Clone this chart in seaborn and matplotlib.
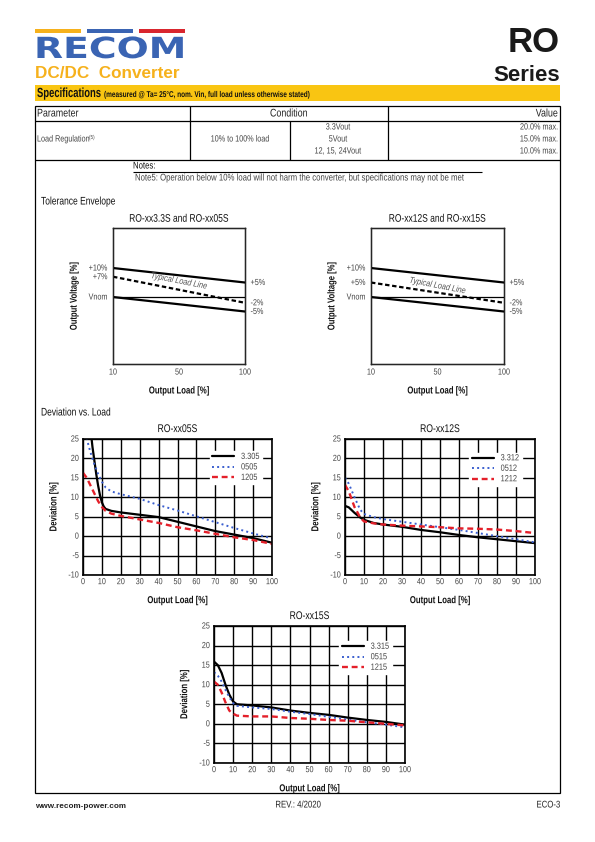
import matplotlib
matplotlib.use('Agg')
import matplotlib.pyplot as plt
import seaborn as sns
from matplotlib import patheffects
from matplotlib.patches import Rectangle
from matplotlib.transforms import Affine2D

# Page size in pixels (595x842 at 100 dpi)
W, H = 595, 842

sns.set_style('white')
plt.rcParams['font.family'] = ['Liberation Sans', 'DejaVu Sans']
plt.rcParams['axes.unicode_minus'] = False

ORANGE = '#F6B11C'
YELLOW = '#F9C512'
LOGO_BLUE = '#3A64B3'
LOGO_RED = '#D9262E'
GRAY = '#444444'
SER_BLUE = '#3B5FCF'
SER_RED = '#E4202A'

# ---- Tolerance envelope data (% deviation at 10% and 100% load) ----
env_load_labels = ['10', '50', '100']
env_pos = [0, 2]
env_a_upper = [10, 5]
env_a_typical = [7, -2]
env_a_lower = [0, -5]
env_a_left = ['+10%', '+7%', 'Vnom']
env_a_left_vals = [10, 7, 0]
env_b_upper = [10, 5]
env_b_typical = [5, -2]
env_b_lower = [0, -5]
env_b_left = ['+10%', '+5%', 'Vnom']
env_b_left_vals = [10, 5, 0]
env_right = ['+5%', '-2%', '-5%']
env_right_vals = [5, -2, -5]

# ---- Deviation vs load data ----
x05_black = [4, 5, 6, 7, 8, 9, 10, 11, 12, 15, 20, 30, 40, 50, 60, 70, 80, 90, 100]
y05_black = [27.5, 23, 19.5, 16, 13, 10.5, 8.7, 7.6, 7.0, 6.5, 6.1, 5.5, 4.9, 3.7, 2.5, 1.3, 0.4, -0.5, -1.7]
x05_blue = [1, 2, 4, 6, 8, 10, 12, 15, 20, 30, 40, 50, 60, 70, 80, 90, 100]
y05_blue = [26.5, 25, 21.5, 18.5, 16, 14, 12.5, 11.5, 10.8, 9.6, 8.0, 6.6, 5.1, 3.6, 2.1, 0.7, -0.6]
x05_red = [0, 2, 4, 6, 8, 10, 12, 15, 20, 30, 40, 50, 60, 70, 80, 90, 100]
y05_red = [16.3, 15, 13, 11, 9, 7.5, 6.5, 5.8, 5.2, 4.3, 3.4, 2.3, 1.5, 0.6, -0.3, -1.0, -2.0]
labels05 = ['3.305', '0505', '1205']

x12 = [0, 2, 5, 8, 10, 15, 20, 30, 40, 50, 60, 70, 80, 90, 100]
y12_black = [7.8, 7.4, 6.0, 4.8, 4.2, 3.4, 3.0, 2.4, 1.6, 1.0, 0.3, -0.3, -0.8, -1.3, -1.8]
y12_blue = [15.0, 13.5, 10.0, 6.8, 5.7, 4.9, 4.4, 3.7, 3.0, 2.3, 1.6, 0.8, 0.0, -0.8, -1.6]
y12_red = [13.2, 11.5, 7.5, 4.8, 3.8, 3.3, 3.0, 2.7, 2.5, 2.3, 2.0, 1.9, 1.7, 1.3, 0.8]
labels12 = ['3.312', '0512', '1212']

x15 = [0, 2, 4, 6, 8, 10, 12, 20, 30, 40, 50, 60, 70, 80, 90, 100]
y15_black = [15.9, 15.0, 13.0, 10.0, 7.5, 5.7, 5.0, 4.7, 4.2, 3.4, 2.8, 2.3, 1.6, 1.0, 0.5, -0.2]
y15_blue = [13.2, 12.3, 10.8, 8.7, 6.8, 5.3, 4.6, 4.2, 3.8, 3.1, 2.5, 1.8, 1.1, 0.4, -0.2, -0.9]
y15_red = [10.8, 10.0, 8.0, 5.5, 3.4, 2.6, 2.1, 1.9, 1.9, 1.5, 1.3, 1.0, 0.8, 0.4, 0.0, -0.4]
labels15 = ['3.315', '0515', '1215']


class VScale(patheffects.AbstractPathEffect):
    """Stretch glyphs vertically about the baseline (fakes a condensed face)."""

    def __init__(self, sy):
        super().__init__()
        self.sy = sy

    def draw_path(self, renderer, gc, tpath, affine, rgbFace=None):
        renderer.draw_path(gc, tpath, Affine2D().scale(1, self.sy) + affine, rgbFace)


def cond(t, sy=1.25):
    t.set_path_effects([VScale(sy)])
    return t


fig = plt.figure(figsize=(W / 100, H / 100), dpi=100)


def box(l, t, w, h):
    return fig.add_axes([l / W, 1 - (t + h) / H, w / W, h / H])


# background layer in pixel coordinates
bg = fig.add_axes([0, 0, 1, 1])
bg.set_xlim(0, W)
bg.set_ylim(H, 0)
bg.axis('off')


def txt(x, y, s, size, sy=1.25, **kw):
    kw.setdefault('va', 'center')
    return cond(bg.text(x, y, s, size=size, **kw), sy)


# logo
bg.add_patch(Rectangle((35, 29), 46, 3.5, color=ORANGE, lw=0))
bg.add_patch(Rectangle((87, 29), 46, 3.5, color=LOGO_BLUE, lw=0))
bg.add_patch(Rectangle((139, 29), 46, 3.5, color=LOGO_RED, lw=0))
txt(34, 58, 'RECOM', 27.2, sy=0.77, family='DejaVu Sans', weight='bold', color=LOGO_BLUE, va='baseline')
bg.text(35, 78, 'DC/DC  Converter', weight='bold', size=12.3, color=ORANGE, va='baseline')
bg.text(560, 52, 'RO', weight='bold', size=25, color='#1a1a1a', ha='right', va='baseline')
bg.text(560, 81, 'Series', weight='bold', size=16, color='#1a1a1a', ha='right', va='baseline')

# specifications bar
bg.add_patch(Rectangle((35, 85), 525, 16, color=YELLOW, lw=0))
txt(37, 97, 'Specifications', 6.8, sy=1.4, weight='bold', va='baseline', color='#111')
txt(104, 97, '(measured @ Ta= 25°C, nom. Vin, full load unless otherwise stated)', 4.65, sy=1.3,
    weight='bold', va='baseline', color='#111')

# table frame
bg.add_patch(Rectangle((35, 106), 525, 687, fill=False, ec='black', lw=0.9))
bg.hlines([121, 160], 35, 560, color='black', lw=0.9)
bg.vlines([190, 388], 106, 160, color='black', lw=0.9)
bg.vlines([290], 121, 160, color='black', lw=0.9)

txt(37, 114, 'Parameter', 6.4, color='#222')
txt(289, 114, 'Condition', 6.4, ha='center', color='#222')
txt(558, 114, 'Value', 6.4, ha='right', color='#222')
txt(37, 140, 'Load Regulation', 5.2, color=GRAY)
txt(89, 137.5, '(5)', 3.3, color=GRAY)
txt(240, 140, '10% to 100% load', 5.2, ha='center', color=GRAY)
for yy, s in zip([128, 140, 152], ['3.3Vout', '5Vout', '12, 15, 24Vout']):
    txt(338, yy, s, 5.2, ha='center', color=GRAY)
for yy, s in zip([128, 140, 152], ['20.0% max.', '15.0% max.', '10.0% max.']):
    txt(558, yy, s, 5.2, ha='right', color=GRAY)

txt(133, 167, 'Notes:', 5.6, color='#111')
bg.hlines(172, 133, 482, color='black', lw=0.8)
txt(135, 179, 'Note5: Operation below 10% load will not harm the converter, but specifications may not be met',
    5.6, color=GRAY)

txt(41, 203, 'Tolerance Envelope', 6.1, sy=1.3, color='#111')
txt(41, 414, 'Deviation vs. Load', 6.1, sy=1.3, color='#111')

# footer
bg.text(35, 806, 'www.recom-power.com', weight='bold', size=5.9, va='center', color='#222')
txt(298, 806, 'REV.: 4/2020', 5.6, ha='center', color='#222')
txt(560, 806, 'ECO-3', 5.6, ha='right', color='#222')


def style_ticks(ax, size=5.2):
    ax.tick_params(length=0, labelsize=size, labelcolor=GRAY)
    for tk in ax.xaxis.get_major_ticks() + ax.yaxis.get_major_ticks():
        cond(tk.label1, 1.22)
        cond(tk.label2, 1.22)


def envelope(ax, title, upper, typical, lower, left_vals, left_labels, text_xy):
    sns.lineplot(x=env_pos, y=upper, ax=ax, color='black', lw=1.6)
    sns.lineplot(x=env_pos, y=typical, ax=ax, color='black', lw=1.6, linestyle=(0, (2, 1.2)))
    sns.lineplot(x=env_pos, y=lower, ax=ax, color='black', lw=1.6)
    ax.axhline(0, color='black', lw=0.9)
    ax.set_xlim(0, 2)
    ax.set_ylim(-23.1, 23.8)
    ax.set_xticks(range(len(env_load_labels)))
    ax.set_xticklabels(env_load_labels)
    ax.set_yticks(left_vals)
    ax.set_yticklabels(left_labels)
    ax.tick_params(pad=4)
    style_ticks(ax)
    for sp in ax.spines.values():
        sp.set_visible(True)
        sp.set_color('black')
        sp.set_linewidth(1.0)
    ax2 = ax.twinx()
    ax2.set_ylim(ax.get_ylim())
    ax2.set_yticks(env_right_vals)
    ax2.set_yticklabels(env_right)
    ax2.tick_params(pad=4)
    style_ticks(ax2)
    cond(ax.set_title(title, size=6.1, pad=4.5, color='#111'), 1.3)
    cond(ax.set_xlabel('Output Load [%]', weight='bold', size=5.6, color='#111'), 1.3)
    cond(ax.set_ylabel('Output Voltage [%]', weight='bold', size=5.5, color='#111'), 1.3)
    ax.xaxis.set_label_coords(0.5, -0.18)
    ax.yaxis.set_label_coords(-0.26, 0.5)
    cond(ax.text(text_xy[0], text_xy[1], 'Typical Load Line', style='italic', size=5.3,
                 color='#555', rotation=-11, ha='center', va='center'), 1.2)


ea = box(113, 228, 132, 136)
envelope(ea, 'RO-xx3.3S and RO-xx05S', env_a_upper, env_a_typical, env_a_lower,
         env_a_left_vals, env_a_left, (1.0, 5.2))
eb = box(371, 228, 133, 136)
envelope(eb, 'RO-xx12S and RO-xx15S', env_b_upper, env_b_typical, env_b_lower,
         env_b_left_vals, env_b_left, (1.0, 3.6))


def deviation(ax, title, series, labels, leg_anchor):
    styles = [('black', '-', 1.6), (SER_BLUE, ':', 1.4), (SER_RED, (0, (2.5, 1.6)), 1.7)]
    for (xs, ys), lab, (c, ls, lw) in zip(series, labels, styles):
        sns.lineplot(x=xs, y=ys, ax=ax, color=c, linestyle=ls, lw=lw, label=lab)
    ax.set_xlim(0, 100)
    ax.set_ylim(-10, 25)
    ax.set_xticks(range(0, 101, 10))
    ax.set_yticks(range(-10, 26, 5))
    ax.grid(True, color='black', lw=1.0)
    ax.tick_params(pad=3)
    style_ticks(ax)
    for sp in ax.spines.values():
        sp.set_visible(True)
        sp.set_color('black')
        sp.set_linewidth(1.2)
    cond(ax.set_title(title, size=6.2, pad=5, color='#111'), 1.3)
    cond(ax.set_xlabel('Output Load [%]', weight='bold', size=5.6, color='#111'), 1.3)
    cond(ax.set_ylabel('Deviation [%]', weight='bold', size=5.6, color='#111'), 1.3)
    ax.xaxis.set_label_coords(0.5, -0.17)
    ax.yaxis.set_label_coords(-0.13, 0.5)
    leg = ax.legend(loc='upper right', bbox_to_anchor=leg_anchor, frameon=True, fancybox=False,
                    framealpha=1, edgecolor='white', fontsize=5.3, handlelength=3.0,
                    borderpad=0.35, labelspacing=0.45, handletextpad=0.9, borderaxespad=0)
    for t in leg.get_texts():
        t.set_color(GRAY)
        cond(t, 1.22)


d05 = box(83, 439, 189, 136)
deviation(d05, 'RO-xx05S', [(x05_black, y05_black), (x05_blue, y05_blue), (x05_red, y05_red)],
          labels05, (0.947, 0.91))
d12 = box(345, 439, 190, 136)
deviation(d12, 'RO-xx12S', [(x12, y12_black), (x12, y12_blue), (x12, y12_red)],
          labels12, (0.93, 0.9))
d15 = box(214, 626, 191, 137)
deviation(d15, 'RO-xx15S', [(x15, y15_black), (x15, y15_blue), (x15, y15_red)],
          labels15, (0.93, 0.89))

fig.savefig('out.png', dpi=100)
